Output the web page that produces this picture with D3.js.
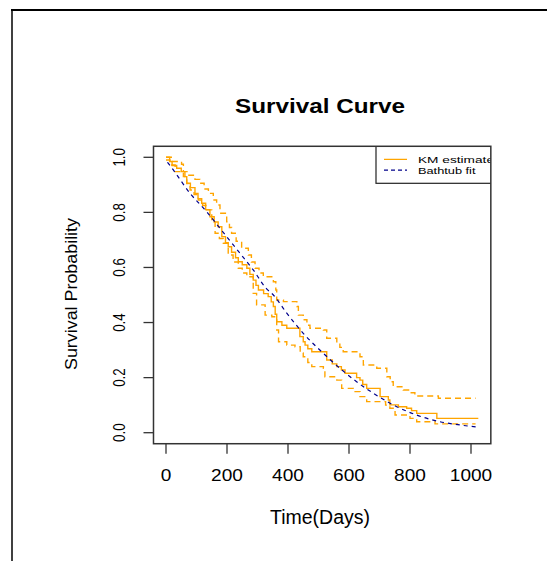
<!DOCTYPE html>
<html>
<head>
<meta charset="utf-8">
<script src="https://cdn.jsdelivr.net/npm/d3@7"></script>
<style>
  body { margin: 0; background: #fff; }
  text { font-family: "Liberation Sans", Arial, sans-serif; fill: #000; }
</style>
</head>
<body>
<div id="vis"></div>
<script>
/* Kaplan-Meier estimate: time of each drop and the level after it */
var kmTimes = [0, 12, 20, 35, 50, 62, 68, 80, 95, 105, 117, 130, 144, 158, 171, 183, 195, 204, 215, 228,
    237, 250, 265, 275, 286, 295, 303, 320, 335, 345, 352, 358, 363, 380, 396, 439, 450, 456, 465, 478,
    527, 545, 560, 575, 587, 625, 636, 645, 658, 702, 729, 734, 762, 789, 805, 822, 888, 1024];
var kmSurv = [1.0, 0.985, 0.970, 0.960, 0.948, 0.930, 0.906, 0.890, 0.869, 0.850, 0.833, 0.810, 0.784, 0.765, 0.748, 0.712, 0.690, 0.675, 0.655, 0.635,
    0.621, 0.610, 0.597, 0.575, 0.554, 0.535, 0.518, 0.505, 0.494, 0.475, 0.458, 0.430, 0.403, 0.390, 0.379, 0.349, 0.330, 0.318, 0.305, 0.294,
    0.264, 0.250, 0.240, 0.228, 0.216, 0.200, 0.191, 0.175, 0.161, 0.131, 0.119, 0.101, 0.094, 0.089, 0.080, 0.070, 0.052, 0.052];

/* upper confidence band */
var upTimes = [0, 20, 51, 57, 75, 95, 111, 125, 139, 155, 166, 177, 199, 208, 215, 230, 248, 270, 280, 292,
    305, 319, 352, 360, 363, 385, 429, 434, 450, 462, 472, 516, 527, 560, 570, 581, 636, 647, 691, 724,
    735, 745, 778, 800, 816, 893, 1015];
var upSurv = [1.0, 0.985, 0.975, 0.948, 0.935, 0.920, 0.906, 0.885, 0.869, 0.845, 0.827, 0.797, 0.766, 0.745, 0.724, 0.695, 0.670, 0.645, 0.620, 0.597,
    0.580, 0.566, 0.548, 0.518, 0.482, 0.476, 0.458, 0.427, 0.410, 0.390, 0.379, 0.373, 0.343, 0.325, 0.310, 0.294, 0.276, 0.246, 0.234, 0.203,
    0.185, 0.167, 0.155, 0.145, 0.133, 0.125, 0.125];

/* lower confidence band */
var loTimes = [0, 13, 30, 57, 68, 79, 92, 106, 120, 133, 150, 161, 175, 188, 204, 220, 237, 250, 265, 286,
    297, 325, 347, 363, 369, 396, 423, 440, 450, 465, 478, 516, 521, 560, 576, 614, 636, 658, 720, 734,
    751, 800, 822, 882, 1015];
var loSurv = [0.990, 0.972, 0.948, 0.930, 0.905, 0.881, 0.865, 0.845, 0.825, 0.809, 0.766, 0.724, 0.705, 0.688, 0.645, 0.620, 0.597, 0.580, 0.566, 0.506,
    0.464, 0.427, 0.421, 0.373, 0.330, 0.318, 0.312, 0.290, 0.276, 0.255, 0.240, 0.234, 0.203, 0.191, 0.161, 0.149, 0.131, 0.113, 0.100, 0.089,
    0.064, 0.052, 0.040, 0.032, 0.032];

/* bathtub fit */
var fitTimes = [5, 24, 79, 133, 177, 243, 286, 330, 352, 396, 450, 516, 570, 625, 680, 745, 822, 898, 964, 1024];
var fitSurv = [0.982, 0.954, 0.869, 0.803, 0.742, 0.651, 0.591, 0.522, 0.500, 0.434, 0.361, 0.288, 0.234, 0.185, 0.143, 0.101, 0.064, 0.040, 0.028, 0.020];

var xTicks = [0, 200, 400, 600, 800, 1000];
var yTicks = [0, 0.2, 0.4, 0.6, 0.8, 1.0];
var legendLabels = ["KM estimate", "Bathtub fit"];

var width = 547, height = 561;
var orange = "#ffa500", navy = "#00008b";

var svg = d3.select("#vis").append("svg")
    .attr("width", width)
    .attr("height", height);

/* frame of the outer picture */
svg.append("line").attr("x1", 11).attr("x2", width).attr("y1", 10).attr("y2", 10)
    .attr("stroke", "#000").attr("stroke-width", 2);
svg.append("line").attr("x1", 12).attr("x2", 12).attr("y1", 9).attr("y2", height)
    .attr("stroke", "#000").attr("stroke-width", 1.5);

/* scales, the box is the R style 4% extension of the data range */
var x = d3.scaleLinear().domain([0, 1000]).range([166, 471]);
var y = d3.scaleLinear().domain([0, 1]).range([432.7, 157.3]);
var box = {left: x(-41), right: x(1065), top: y(1.04), bottom: y(-0.04)};

svg.append("clipPath").attr("id", "plotClip")
    .append("rect")
    .attr("x", box.left).attr("y", box.top)
    .attr("width", box.right - box.left).attr("height", box.bottom - box.top);

function zip(ts, ss) {
    return ts.map(function(t, i) { return [t, ss[i]]; });
}

var stepLine = d3.line()
    .x(function(d) { return x(d[0]); })
    .y(function(d) { return y(d[1]); })
    .curve(d3.curveStepAfter);

var smoothLine = d3.line()
    .x(function(d) { return x(d[0]); })
    .y(function(d) { return y(d[1]); })
    .curve(d3.curveMonotoneX);

var plot = svg.append("g").attr("clip-path", "url(#plotClip)");

plot.append("path").datum(zip(upTimes, upSurv))
    .attr("d", stepLine).attr("fill", "none")
    .attr("stroke", orange).attr("stroke-width", 1.4).attr("stroke-dasharray", "6,4");
plot.append("path").datum(zip(loTimes, loSurv))
    .attr("d", stepLine).attr("fill", "none")
    .attr("stroke", orange).attr("stroke-width", 1.4).attr("stroke-dasharray", "6,4");
plot.append("path").datum(zip(kmTimes, kmSurv))
    .attr("d", stepLine).attr("fill", "none")
    .attr("stroke", orange).attr("stroke-width", 1.4);
plot.append("path").datum(zip(fitTimes, fitSurv))
    .attr("d", smoothLine).attr("fill", "none")
    .attr("stroke", navy).attr("stroke-width", 1.2).attr("stroke-dasharray", "4,4");

/* legend in the top right corner, clipped by the box */
var legend = plot.append("g");
legend.append("rect")
    .attr("x", 376).attr("y", box.top)
    .attr("width", 130).attr("height", 183.3 - box.top)
    .attr("fill", "#fff").attr("stroke", "#222").attr("stroke-width", 1.2);
legend.selectAll(".lgLine")
    .data(legendLabels)
    .enter()
    .append("line")
    .attr("x1", 384).attr("x2", 407)
    .attr("y1", function(d, i) { return 159.3 + i * 10.8; })
    .attr("y2", function(d, i) { return 159.3 + i * 10.8; })
    .attr("stroke", function(d, i) { return i === 0 ? orange : navy; })
    .attr("stroke-width", 1.2)
    .attr("stroke-dasharray", function(d, i) { return i === 0 ? null : "4,3"; });
legend.selectAll(".lgText")
    .data(legendLabels)
    .enter()
    .append("text")
    .attr("x", 418)
    .attr("y", function(d, i) { return 163.3 + i * 10.8; })
    .attr("font-size", 9.5)
    .attr("textLength", function(d, i) { return i === 0 ? 76 : 57.5; })
    .attr("lengthAdjust", "spacingAndGlyphs")
    .text(function(d) { return d; });

/* plot box */
svg.append("rect")
    .attr("x", box.left).attr("y", box.top)
    .attr("width", box.right - box.left).attr("height", box.bottom - box.top)
    .attr("fill", "none").attr("stroke", "#333").attr("stroke-width", 1.5);

/* x axis */
var xAxis = svg.append("g").attr("transform", "translate(0," + box.bottom + ")");
xAxis.selectAll("line")
    .data(xTicks).enter().append("line")
    .attr("x1", function(d) { return x(d); }).attr("x2", function(d) { return x(d); })
    .attr("y1", 0).attr("y2", 10)
    .attr("stroke", "#333").attr("stroke-width", 1.3);
xAxis.selectAll("text")
    .data(xTicks).enter().append("text")
    .attr("x", function(d) { return x(d); })
    .attr("y", 37.7)
    .attr("text-anchor", "middle")
    .attr("font-size", 17)
    .attr("textLength", function(d) { return String(d).length * 10.6; })
    .attr("lengthAdjust", "spacingAndGlyphs")
    .text(function(d) { return d; });

/* y axis, labels turned like R does */
var yAxis = svg.append("g").attr("transform", "translate(" + box.left + ",0)");
yAxis.selectAll("line")
    .data(yTicks).enter().append("line")
    .attr("x1", 0).attr("x2", -10)
    .attr("y1", function(d) { return y(d); }).attr("y2", function(d) { return y(d); })
    .attr("stroke", "#333").attr("stroke-width", 1.3);
yAxis.selectAll("text")
    .data(yTicks).enter().append("text")
    .attr("transform", function(d) { return "translate(" + (125.5 - box.left) + "," + y(d) + ") rotate(-90)"; })
    .attr("text-anchor", "middle")
    .attr("font-size", 17)
    .attr("textLength", 18.5)
    .attr("lengthAdjust", "spacingAndGlyphs")
    .text(function(d) { return d.toFixed(1); });

/* titles */
svg.append("text")
    .attr("x", 320).attr("y", 112.5)
    .attr("text-anchor", "middle")
    .attr("font-size", 21).attr("font-weight", "bold")
    .attr("textLength", 170).attr("lengthAdjust", "spacingAndGlyphs")
    .text("Survival Curve");

svg.append("text")
    .attr("x", 320).attr("y", 524.3)
    .attr("text-anchor", "middle")
    .attr("font-size", 19.5)
    .attr("textLength", 100).attr("lengthAdjust", "spacingAndGlyphs")
    .text("Time(Days)");

svg.append("text")
    .attr("transform", "translate(77,294) rotate(-90)")
    .attr("text-anchor", "middle")
    .attr("font-size", 17)
    .attr("textLength", 152).attr("lengthAdjust", "spacingAndGlyphs")
    .text("Survival Probability");
</script>
</body>
</html>
